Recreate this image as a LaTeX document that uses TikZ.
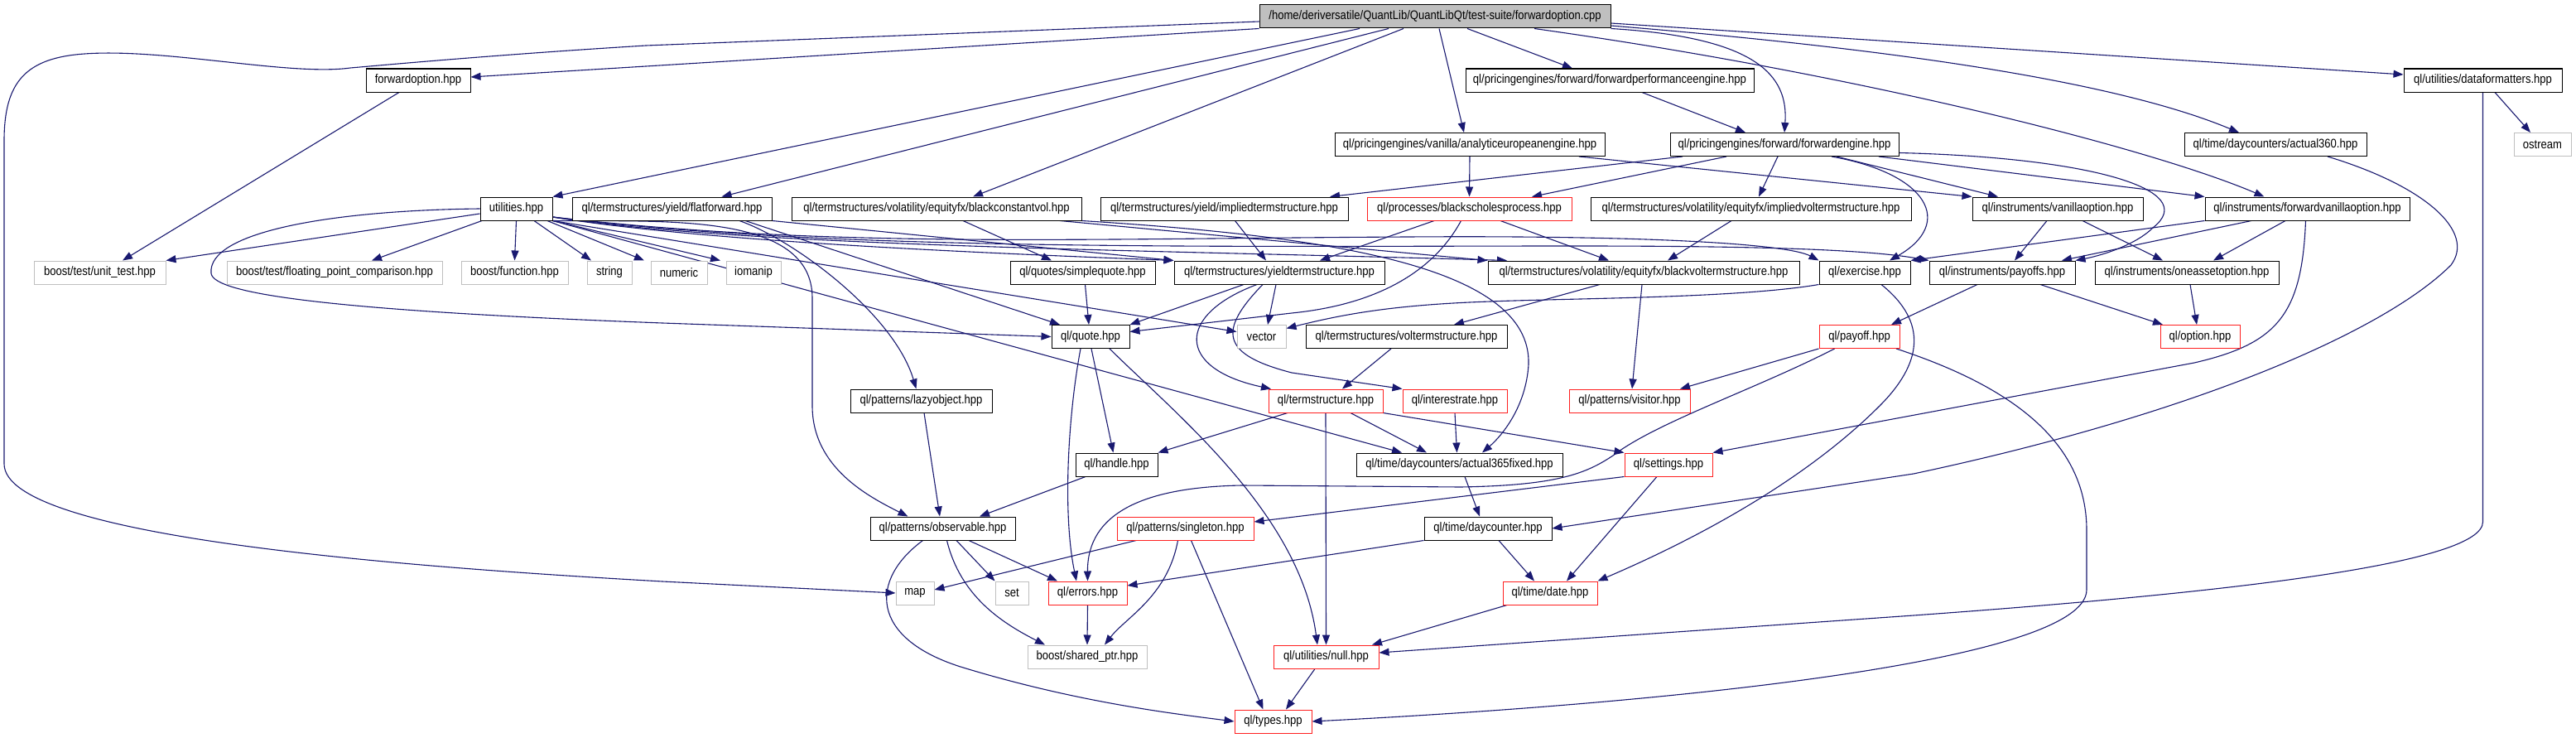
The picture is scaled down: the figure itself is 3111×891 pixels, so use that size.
\documentclass[tikz,border=0pt]{standalone}
\usepackage{fontspec}
\setmainfont{Liberation Sans}[FakeStretch=0.87]
\usetikzlibrary{arrows.meta}
\definecolor{edgec}{HTML}{191970}
\definecolor{grayb}{HTML}{BFBFBF}
\definecolor{redb}{HTML}{FF2020}
\definecolor{mainfill}{HTML}{BFBFBF}
\pgfdeclarelayer{bg}
\pgfsetlayers{bg,main}
\tikzset{
 nd/.style={draw=black, line width=1pt, fill=white, minimum height=28pt, inner sep=0pt, font=\fontsize{15pt}{15pt}\selectfont},
 sysnd/.style={nd, draw=grayb},
 rednd/.style={nd, draw=redb},
 mainnd/.style={nd, fill=mainfill},
 dep/.style={draw=edgec, line width=1.1pt, -{Triangle[length=12pt,width=9pt]}}
}
\begin{document}
\begin{tikzpicture}[x=1pt,y=-1pt]
\useasboundingbox (0,0) rectangle (3111,891);
% row 0-2
\node[mainnd, minimum width=424pt] (main) at (1733,20) {/home/deriversatile/QuantLib/QuantLibQt/test-suite/forwardoption.cpp};
\node[nd, minimum width=126pt] (fwdopt) at (505,97) {forwardoption.hpp};
\node[nd, minimum width=348pt] (fpe) at (1944,97) {ql/pricingengines/forward/forwardperformanceengine.hpp};
\node[nd, minimum width=191pt] (dataf) at (2998.5,97) {ql/utilities/dataformatters.hpp};
\node[nd, minimum width=326pt] (aee) at (1775,174.5) {ql/pricingengines/vanilla/analyticeuropeanengine.hpp};
\node[nd, minimum width=276pt] (fe) at (2155,174.5) {ql/pricingengines/forward/forwardengine.hpp};
\node[nd, minimum width=220pt] (a360) at (2748,174.5) {ql/time/daycounters/actual360.hpp};
\node[sysnd, minimum width=69pt] (ostream) at (3070.5,174.5) {ostream};
% row 3
\node[nd, minimum width=87pt] (util) at (623.5,252) {utilities.hpp};
\node[nd, minimum width=241pt] (flat) at (811.5,252) {ql/termstructures/yield/flatforward.hpp};
\node[nd, minimum width=350pt] (bcv) at (1131,252) {ql/termstructures/volatility/equityfx/blackconstantvol.hpp};
\node[nd, minimum width=299pt] (its) at (1478.5,252) {ql/termstructures/yield/impliedtermstructure.hpp};
\node[rednd, minimum width=247pt] (bsp) at (1774.5,252) {ql/processes/blackscholesprocess.hpp};
\node[nd, minimum width=387pt] (ivts) at (2114.5,252) {ql/termstructures/volatility/equityfx/impliedvoltermstructure.hpp};
\node[nd, minimum width=206pt] (vo) at (2485,252) {ql/instruments/vanillaoption.hpp};
\node[nd, minimum width=247pt] (fvo) at (2786.5,252) {ql/instruments/forwardvanillaoption.hpp};
% row 4
\node[sysnd, minimum width=159pt] (unit) at (120.5,329) {boost/test/unit\_test.hpp};
\node[sysnd, minimum width=260pt] (fpc) at (404,329) {boost/test/floating\_point\_comparison.hpp};
\node[sysnd, minimum width=129pt] (func) at (621.5,329) {boost/function.hpp};
\node[sysnd, minimum width=54pt] (string) at (736,329) {string};
\node[sysnd, minimum width=68pt] (numeric) at (820,329) {numeric};
\node[sysnd, minimum width=66pt] (iomanip) at (910,329) {iomanip};
\node[nd, minimum width=175pt] (sq) at (1307.5,329) {ql/quotes/simplequote.hpp};
\node[nd, minimum width=254pt] (yts) at (1545,329) {ql/termstructures/yieldtermstructure.hpp};
\node[nd, minimum width=376pt] (bvts) at (1985,329) {ql/termstructures/volatility/equityfx/blackvoltermstructure.hpp};
\node[nd, minimum width=110pt] (ex) at (2252,329) {ql/exercise.hpp};
\node[nd, minimum width=176pt] (pays) at (2418,329) {ql/instruments/payoffs.hpp};
\node[nd, minimum width=222pt] (oao) at (2641,329) {ql/instruments/oneassetoption.hpp};
% row 5
\node[nd, minimum width=94pt] (quote) at (1317,406.5) {ql/quote.hpp};
\node[sysnd, minimum width=59pt] (vector) at (1523.5,406.5) {vector};
\node[nd, minimum width=243pt] (vts) at (1698.5,406.5) {ql/termstructures/voltermstructure.hpp};
\node[rednd, minimum width=97pt] (payoff) at (2245.5,406.5) {ql/payoff.hpp};
\node[rednd, minimum width=96pt] (option) at (2657,406.5) {ql/option.hpp};
% row 6
\node[nd, minimum width=171pt] (lazy) at (1112.5,484) {ql/patterns/lazyobject.hpp};
\node[rednd, minimum width=138pt] (ts) at (1601,484) {ql/termstructure.hpp};
\node[rednd, minimum width=126pt] (ir) at (1757,484) {ql/interestrate.hpp};
\node[rednd, minimum width=146pt] (visitor) at (1968,484) {ql/patterns/visitor.hpp};
% row 7
\node[nd, minimum width=99pt] (handle) at (1348.5,561) {ql/handle.hpp};
\node[nd, minimum width=249pt] (a365) at (1762.5,561) {ql/time/daycounters/actual365fixed.hpp};
\node[rednd, minimum width=106pt] (settings) at (2015,561) {ql/settings.hpp};
% row 8
\node[nd, minimum width=175pt] (obs) at (1138.5,638) {ql/patterns/observable.hpp};
\node[rednd, minimum width=165pt] (singleton) at (1431.5,638) {ql/patterns/singleton.hpp};
\node[nd, minimum width=154pt] (dc) at (1797,638) {ql/time/daycounter.hpp};
% row 9
\node[sysnd, minimum width=46pt] (map) at (1105,716) {map};
\node[sysnd, minimum width=40pt] (set) at (1222,716) {set};
\node[rednd, minimum width=95pt] (errors) at (1313.5,716) {ql/errors.hpp};
\node[rednd, minimum width=114pt] (date) at (1872,716) {ql/time/date.hpp};
% row 10-11
\node[sysnd, minimum width=144pt] (sp) at (1313,793) {boost/shared\_ptr.hpp};
\node[rednd, minimum width=127pt] (null) at (1601.5,793) {ql/utilities/null.hpp};
\node[rednd, minimum width=93pt] (types) at (1537.5,871) {ql/types.hpp};

\begin{pgfonlayer}{bg}
\fill[white] (0,0) rectangle (3111,891);
% main
\draw[dep] ([yshift=-6pt]main.west) -- (780,55) .. controls (600,66) and (470,78) .. (423,82) .. controls (350,92) and (200,58) .. (102,65) .. controls (30,70) and (5,100) .. (5,170) -- (5,560) .. controls (5,650) and (500,685) .. (800,702) -- (map.west);
\draw[dep] (main.south west) -- ([yshift=4pt]fwdopt.east);
\draw[dep] ([xshift=-91pt]main.south) -- (util.north east);
\draw[dep] ([xshift=-56pt]main.south) -- ([xshift=60pt]flat.north);
\draw[dep] ([xshift=-38pt]main.south) -- ([xshift=44pt]bcv.north);
\draw[dep] ([xshift=5pt]main.south) -- ([xshift=-7pt]aee.north);
\draw[dep] ([xshift=39pt]main.south) -- ([xshift=-45pt]fpe.north);
\draw[dep] (main.south east) .. controls (2120,45) and (2160,90) .. (fe.north);
\draw[dep] ([xshift=120pt]main.south) .. controls (2250,90) and (2600,180) .. ([xshift=-52pt]fvo.north);
\draw[dep] ([yshift=-11pt]main.east) .. controls (2300,60) and (2560,100) .. ([xshift=-44pt]a360.north);
\draw[dep] ([yshift=-8pt]main.east) -- ([yshift=7pt]dataf.west);
% forwardoption
\draw[dep] ([xshift=-23pt]fwdopt.south) -- ([xshift=27.5pt]unit.north);
% utilities
\draw[dep] ([yshift=-6pt]util.west) -- (unit.north east);
\draw[dep] ([xshift=-41.5pt]util.south) -- ([xshift=45pt]fpc.north);
\draw[dep] (util.south) -- (func.north);
\draw[dep] ([xshift=21.5pt]util.south) -- ([xshift=-22pt]string.north);
\draw[dep] ([xshift=37.5pt]util.south) -- ([xshift=-42pt]numeric.north);
\draw[dep] (util.south east) -- ([xshift=-40pt]iomanip.north);
\draw[dep] (util.west) .. controls (400,254) and (250,280) .. (255,330) .. controls (258,355) and (400,375) .. (800,390) -- (quote.west);
\draw[dep] (util.south east) .. controls (800,268) and (981,255) .. (981,360) -- (981,490) .. controls (981,565) and (1050,600) .. ([xshift=-42pt]obs.north);
\draw[dep] (util.south east) -- ([yshift=6pt]vector.west);
\draw[dep] (util.south east) -- ([xshift=-69.5pt]a365.north);
\draw[dep] ([yshift=-10pt]util.east) .. controls (850,292) and (1200,306) .. (yts.north west);
\draw[dep] ([yshift=-10pt]util.east) .. controls (900,298) and (1400,302) .. ([xshift=-165pt]bvts.north);
\draw[dep] ([yshift=-10pt]util.east) .. controls (1000,300) and (1300,288) .. (1700,286) .. controls (2000,284) and (2160,295) .. (ex.north west);
\draw[dep] ([yshift=-10pt]util.east) .. controls (1000,304) and (1500,297) .. (1900,297) .. controls (2100,297) and (2250,300) .. (pays.north west);
% flatforward
\draw[dep] ([xshift=81.5pt]flat.south) .. controls (960,290) and (1080,380) .. ([xshift=-6pt]lazy.north);
\draw[dep] ([xshift=88.5pt]flat.south) -- ([xshift=-37pt]quote.north);
\draw[dep] (flat.south east) -- (yts.north west);
% blackconstantvol
\draw[dep] ([xshift=32pt]bcv.south) -- ([xshift=-37.5pt]sq.north);
\draw[dep] ([xshift=149pt]bcv.south) -- (bvts.north west);
\draw[dep] (bcv.south east) .. controls (1600,285) and (1850,320) .. (1846,440) .. controls (1843,490) and (1815,525) .. ([xshift=27.5pt]a365.north);
% simplequote, impliedts
\draw[dep] ([xshift=3pt]sq.south) -- ([xshift=-2pt]quote.north);
\draw[dep] ([xshift=13pt]its.south) -- ([xshift=-16pt]yts.north);
% blackscholesprocess
\draw[dep] ([xshift=-42.5pt]bsp.south) -- ([xshift=49pt]yts.north);
\draw[dep] ([xshift=-10pt]bsp.south) .. controls (1730,330) and (1660,368) .. (1560,378) -- ([yshift=6pt]quote.east);
\draw[dep] ([xshift=37.5pt]bsp.south) -- ([xshift=-42pt]bvts.north);
% analyticeuropean, fwdperf
\draw[dep] (aee.south) -- (bsp.north);
\draw[dep] ([xshift=132pt]aee.south) -- (vo.north west);
\draw[dep] ([xshift=39pt]fpe.south) -- ([xshift=-47pt]fe.north);
% forwardengine
\draw[dep] ([xshift=-123pt]fe.south) -- ([xshift=127.5pt]its.north);
\draw[dep] ([xshift=-70pt]fe.south) -- ([xshift=75.5pt]bsp.north);
\draw[dep] ([xshift=-8pt]fe.south) -- ([xshift=9.5pt]ivts.north);
\draw[dep] ([xshift=57pt]fe.south) .. controls (2330,210) and (2360,270) .. ([xshift=30pt]ex.north);
\draw[dep] ([xshift=63pt]fe.south) -- ([xshift=-72pt]vo.north);
\draw[dep] ([xshift=114pt]fe.south) -- (fvo.north west);
\draw[dep] ([yshift=-10pt]fe.east) .. controls (2520,190) and (2660,228) .. (2600,275) .. controls (2580,295) and (2540,308) .. (pays.north east);
% impliedvol, vanilla, forwardvanilla
\draw[dep] ([xshift=-23.5pt]ivts.south) -- ([xshift=29pt]bvts.north);
\draw[dep] ([xshift=-13pt]vo.south) -- ([xshift=15pt]pays.north);
\draw[dep] ([xshift=30pt]vo.south) -- ([xshift=-29pt]oao.north);
\draw[dep] ([xshift=-26.5pt]fvo.south) -- ([xshift=32pt]oao.north);
\draw[dep] ([xshift=-67.5pt]fvo.south) -- ([xshift=72pt]pays.north);
\draw[dep] (fvo.south west) -- (ex.north east);
\draw[dep] ([xshift=-2pt]fvo.south) .. controls (2780,380) and (2750,415) .. (2650,438) -- (settings.north east);
% actual360, dataformatters
\draw[dep] ([xshift=63pt]a360.south) .. controls (2930,225) and (2990,280) .. (2960,320) .. controls (2880,400) and (2650,500) .. (2311,572) -- (dc.east);
\draw[dep] ([xshift=14.5pt]dataf.south) -- ([xshift=-14.5pt]ostream.north);
\draw[dep] (dataf.south) -- (2998.5,630) .. controls (2998.5,680) and (2700,715) .. (2311,743) -- ([yshift=5pt]null.east);
% payoffs, oneasset
\draw[dep] ([xshift=-30pt]pays.south) -- ([xshift=38.5pt]payoff.north);
\draw[dep] ([xshift=46pt]pays.south) -- ([xshift=-45pt]option.north);
\draw[dep] ([xshift=4pt]oao.south) -- ([xshift=-4pt]option.north);
% exercise
\draw[dep] ([xshift=20pt]ex.south) .. controls (2330,390) and (2320,440) .. (2270,490) .. controls (2180,580) and (2050,650) .. (date.north east);
\draw[dep] (ex.south west) .. controls (2100,360) and (1900,360) .. (1800,364) .. controls (1680,368) and (1620,380) .. ([yshift=10pt]vector.east);
% blackvol, vol
\draw[dep] ([xshift=-53pt]bvts.south) -- ([xshift=57.5pt]vts.north);
\draw[dep] ([xshift=-2pt]bvts.south) -- ([xshift=3pt]visitor.north);
\draw[dep] ([xshift=-18.5pt]vts.south) -- ([xshift=20pt]ts.north);
% payoff
\draw[dep] (payoff.south west) -- ([xshift=61pt]visitor.north);
\draw[dep] ([xshift=-30pt]payoff.south) .. controls (2120,470) and (2000,510) .. (1948,550) .. controls (1915,572) and (1880,586) .. (1764,588) -- (1500,586) .. controls (1380,588) and (1313,620) .. (errors.north);
\draw[dep] ([xshift=44.5pt]payoff.south) .. controls (2440,470) and (2520,540) .. (2520,640) -- (2520,712) .. controls (2520,800) and (2000,850) .. (types.east);
% quote
\draw[dep] ([xshift=1pt]quote.south) -- ([xshift=-4pt]handle.north);
\draw[dep] ([xshift=-12pt]quote.south) .. controls (1290,500) and (1283,620) .. ([xshift=-13.5pt]errors.north);
\draw[dep] ([xshift=23pt]quote.south) .. controls (1420,500) and (1570,620) .. ([xshift=-10.5pt]null.north);
% handle, lazy
\draw[dep] ([xshift=-37.5pt]handle.south) -- ([xshift=44.5pt]obs.north);
\draw[dep] ([xshift=3.5pt]lazy.south) -- ([xshift=-3.5pt]obs.north);
% termstructure, interestrate
\draw[dep] ([xshift=-46pt]ts.south) -- (handle.north east);
\draw[dep] ([xshift=30pt]ts.south) -- ([xshift=-39.5pt]a365.north);
\draw[dep] (ts.south) -- (null.north);
\draw[dep] (ts.south east) -- (settings.north west);
\draw[dep] (ir.south) -- ([xshift=-3pt]a365.north);
% yieldtermstructure
\draw[dep] ([xshift=-43pt]yts.south) -- (quote.north east);
\draw[dep] ([xshift=-4pt]yts.south) -- ([xshift=7.5pt]vector.north);
\draw[dep] ([xshift=-27pt]yts.south) .. controls (1420,380) and (1420,445) .. ([xshift=-66pt]ts.north);
\draw[dep] ([xshift=-20pt]yts.south) .. controls (1470,400) and (1475,428) .. (1560,450) -- (ir.north west);
% observable
\draw[dep] ([xshift=16.5pt]obs.south) -- (set.north west);
\draw[dep] ([xshift=31.5pt]obs.south) -- ([xshift=-36.5pt]errors.north);
\draw[dep] ([xshift=5pt]obs.south) .. controls (1160,720) and (1210,752) .. ([xshift=-51pt]sp.north);
\draw[dep] ([xshift=-24pt]obs.south) .. controls (1050,700) and (1050,770) .. (1160,805) .. controls (1300,848) and (1420,862) .. (types.west);
% singleton, errors
\draw[dep] ([xshift=-59.5pt]singleton.south) -- ([yshift=4pt]map.east);
\draw[dep] ([xshift=-9pt]singleton.south) .. controls (1410,720) and (1360,745) .. ([xshift=21pt]sp.north);
\draw[dep] ([xshift=7pt]singleton.south) -- ([xshift=-12pt]types.north);
\draw[dep] (errors.south) -- (sp.north);
% settings
\draw[dep] (settings.south west) -- ([yshift=8pt]singleton.east);
\draw[dep] ([xshift=-14pt]settings.south) -- ([xshift=20pt]date.north);
% daycounters, date, null
\draw[dep] ([xshift=6.5pt]a365.south) -- ([xshift=-10pt]dc.north);
\draw[dep] (dc.south west) -- ([yshift=9pt]errors.east);
\draw[dep] ([xshift=13pt]dc.south) -- ([xshift=-19pt]date.north);
\draw[dep] ([xshift=-52pt]date.south) -- ([xshift=55.5pt]null.north);
\draw[dep] ([xshift=-13.5pt]null.south) -- ([xshift=15.5pt]types.north);
\end{pgfonlayer}
\end{tikzpicture}
\end{document}
